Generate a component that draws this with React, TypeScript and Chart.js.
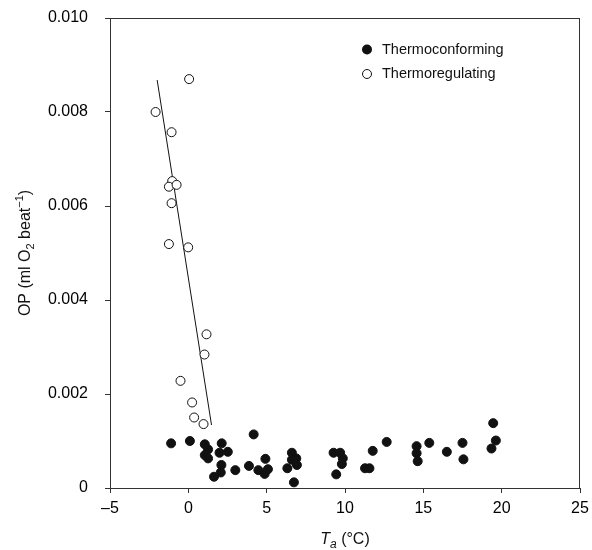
import React, { useEffect, useRef } from "react";
import { Chart, registerables } from "chart.js";

Chart.register(...registerables);

// Thermoconforming (filled)
const confX = [-1.1, 0.1, 1.05, 1.26, 1.05, 1.26, 2.13, 1.99, 2.52, 2.11, 2.07, 1.64, 3.0, 3.87, 4.17, 4.47, 4.92, 5.08, 4.87, 6.32, 6.61, 6.61, 6.74, 6.89, 6.93, 9.27, 9.69, 9.86, 9.8, 9.44, 11.28, 11.56, 11.77, 12.66, 14.57, 14.57, 14.64, 15.38, 16.5, 17.5, 17.56, 19.46, 19.63, 19.35];
const confY = [0.00095, 0.001, 0.00093, 0.00082, 0.0007, 0.00063, 0.00095, 0.00075, 0.00077, 0.00049, 0.00033, 0.00024, 0.00038, 0.00047, 0.00114, 0.00038, 0.00062, 0.0004, 0.0003, 0.00042, 0.00075, 0.0006, 0.00012, 0.00063, 0.00049, 0.00075, 0.00075, 0.00063, 0.00051, 0.00029, 0.00042, 0.00042, 0.00079, 0.00098, 0.00089, 0.00074, 0.00057, 0.00096, 0.00077, 0.00096, 0.00061, 0.00138, 0.00101, 0.00084];

// Thermoregulating (open)
const regX = [0.05, -2.09, -1.07, -1.03, -1.24, -0.75, -1.07, -1.24, -0.01, 1.16, 1.03, -0.5, 0.24, 0.37, 0.97];
const regY = [0.0087, 0.008, 0.00757, 0.00653, 0.00641, 0.00645, 0.00606, 0.00519, 0.00512, 0.00327, 0.00284, 0.00228, 0.00182, 0.0015, 0.00136];

// Regression line for thermoregulating
const fitX = [-1.99, 1.48];
const fitY = [0.00868, 0.00134];

const xTicks = [-5, 0, 5, 10, 15, 20, 25];
const yTicks = [0, 0.002, 0.004, 0.006, 0.008, 0.01];

const legendLabels = ["Thermoconforming", "Thermoregulating"];

const FONT = "'Liberation Sans', Arial, Helvetica, sans-serif";
const INK = "#111";
const AXIS = "#333";

const decorPlugin = {
  id: "decor",
  afterDraw(chart: any) {
    const ctx = chart.ctx as CanvasRenderingContext2D;
    const { left, right, top, bottom } = chart.chartArea;
    ctx.save();
    // top and right frame
    ctx.strokeStyle = AXIS;
    ctx.lineWidth = 1;
    ctx.beginPath();
    ctx.moveTo(left, top + 0.5);
    ctx.lineTo(right, top + 0.5);
    ctx.moveTo(right - 0.5, top);
    ctx.lineTo(right - 0.5, bottom);
    ctx.stroke();

    ctx.fillStyle = INK;
    ctx.textBaseline = "alphabetic";
    ctx.textAlign = "left";

    // x title: T_a (°C)
    const partsX: [string, string, number][] = [
      ["T", `italic 16px ${FONT}`, 0],
      ["a", `italic 12px ${FONT}`, 4],
      [" (°C)", `16px ${FONT}`, 0],
    ];
    let w = 0;
    for (const [t, f] of partsX) {
      ctx.font = f;
      w += ctx.measureText(t).width;
    }
    let x = (left + right) / 2 - w / 2;
    const by = 544;
    for (const [t, f, dy] of partsX) {
      ctx.font = f;
      ctx.fillText(t, x, by + dy);
      x += ctx.measureText(t).width;
    }

    // y title: OP (ml O2 beat-1)
    const partsY: [string, string, number][] = [
      ["OP (ml O", `16px ${FONT}`, 0],
      ["2", `11px ${FONT}`, 4],
      [" beat", `16px ${FONT}`, 0],
      ["\u22121", `11px ${FONT}`, -7],
      [")", `16px ${FONT}`, 0],
    ];
    w = 0;
    for (const [t, f] of partsY) {
      ctx.font = f;
      w += ctx.measureText(t).width;
    }
    ctx.save();
    ctx.translate(30, (top + bottom) / 2);
    ctx.rotate(-Math.PI / 2);
    x = -w / 2;
    for (const [t, f, dy] of partsY) {
      ctx.font = f;
      ctx.fillText(t, x, dy);
      x += ctx.measureText(t).width;
    }
    ctx.restore();

    // legend
    ctx.font = `14.5px ${FONT}`;
    ctx.textBaseline = "middle";
    ctx.beginPath();
    ctx.arc(367, 49.5, 5, 0, Math.PI * 2);
    ctx.fillStyle = INK;
    ctx.fill();
    ctx.fillText(legendLabels[0], 382, 50);
    ctx.beginPath();
    ctx.arc(367, 74, 4.5, 0, Math.PI * 2);
    ctx.fillStyle = "#fff";
    ctx.fill();
    ctx.strokeStyle = INK;
    ctx.lineWidth = 1;
    ctx.stroke();
    ctx.fillStyle = INK;
    ctx.fillText(legendLabels[1], 382, 74);
    ctx.restore();
  },
};

export default function App() {
  const ref = useRef<HTMLCanvasElement | null>(null);

  useEffect(() => {
    if (!ref.current) return;
    const chart = new Chart(ref.current, {
      type: "scatter",
      data: {
        datasets: [
          {
            label: legendLabels[0],
            data: confX.map((v, i) => ({ x: v, y: confY[i] })),
            backgroundColor: INK,
            borderColor: INK,
            borderWidth: 1,
            pointRadius: 4.5,
          },
          {
            label: legendLabels[1],
            data: regX.map((v, i) => ({ x: v, y: regY[i] })),
            backgroundColor: "#fff",
            borderColor: INK,
            borderWidth: 1,
            pointRadius: 4.5,
          },
          {
            label: "fit",
            type: "line",
            data: fitX.map((v, i) => ({ x: v, y: fitY[i] })),
            borderColor: INK,
            borderWidth: 1,
            pointRadius: 0,
            showLine: true,
            fill: false,
          } as any,
        ],
      },
      options: {
        animation: false,
        responsive: false,
        layout: { padding: { top: 18, right: 12, left: 0, bottom: 0 } },
        plugins: {
          legend: { display: false },
          tooltip: { enabled: false },
        },
        scales: {
          x: {
            type: "linear",
            min: -5,
            max: 25,
            afterBuildTicks: (s: any) => {
              s.ticks = xTicks.map((v) => ({ value: v }));
            },
            afterFit: (s: any) => {
              s.height = 62;
              s.paddingLeft = 0;
              s.paddingRight = 0;
            },
            ticks: {
              color: "#000",
              font: { size: 16, family: FONT },
              padding: 6,
              maxRotation: 0,
              callback: (v: any) => (v < 0 ? "\u2013" + Math.abs(v) : String(v)),
            },
            grid: { drawOnChartArea: false, drawTicks: true, tickLength: 5, color: AXIS },
            border: { color: AXIS, width: 1 },
          },
          y: {
            type: "linear",
            min: 0,
            max: 0.01,
            afterBuildTicks: (s: any) => {
              s.ticks = yTicks.map((v) => ({ value: v }));
            },
            afterFit: (s: any) => {
              s.width = 110;
              s.paddingTop = 0;
              s.paddingBottom = 0;
            },
            ticks: {
              color: "#000",
              font: { size: 16, family: FONT },
              padding: 17,
              callback: (v: any) => (v === 0 ? "0" : Number(v).toFixed(3)),
            },
            grid: { drawOnChartArea: false, drawTicks: true, tickLength: 5, color: AXIS },
            border: { color: AXIS, width: 1 },
          },
        },
      },
      plugins: [decorPlugin],
    });
    return () => chart.destroy();
  }, []);

  return (
    <div style={{ position: "absolute", left: 0, top: 0, width: 592, height: 550, background: "#fff" }}>
      <canvas ref={ref} width={592} height={550} style={{ display: "block" }} />
    </div>
  );
}
